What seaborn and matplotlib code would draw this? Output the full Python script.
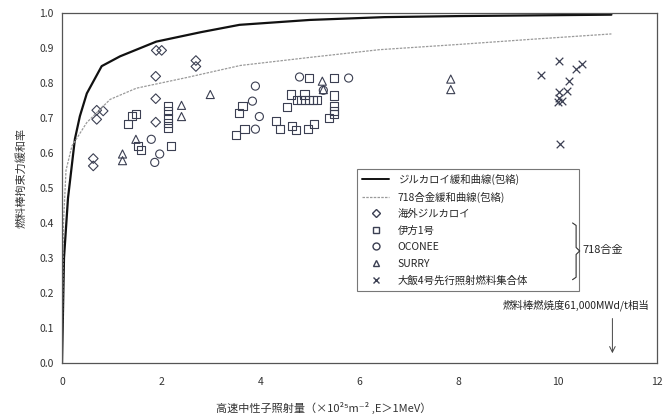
import numpy as np
import pandas as pd
import seaborn as sns
import matplotlib.pyplot as plt
from matplotlib.lines import Line2D

# envelope curves
zr_x = [0, 0.04, 0.12, 0.26, 0.36, 0.5, 0.8, 1.17, 1.9, 2.8, 3.58, 5.0, 6.5, 8.0, 9.5, 11.08]
zr_y = [0, 0.30, 0.47, 0.64, 0.705, 0.77, 0.848, 0.876, 0.918, 0.945, 0.966, 0.98, 0.988, 0.991, 0.993, 0.995]
a718_x = [0, 0.03, 0.08, 0.2, 0.5, 0.97, 1.5, 2.5, 3.6, 5.0, 6.4, 8.0, 9.5, 11.08]
a718_y = [0, 0.40, 0.55, 0.62, 0.687, 0.753, 0.785, 0.815, 0.85, 0.873, 0.895, 0.91, 0.925, 0.94]

# 海外ジルカロイ
dia_x = [0.63, 0.63, 0.70, 0.83, 0.70, 1.89, 1.89, 1.89, 1.90, 2.01, 2.70, 2.70]
dia_y = [0.584, 0.563, 0.722, 0.72, 0.696, 0.819, 0.755, 0.688, 0.893, 0.893, 0.864, 0.847]
# 伊方1号
sq_x = [1.50, 1.42, 1.33, 2.14, 2.14, 2.14, 2.14, 2.14, 2.20, 1.54, 1.60,
        4.98, 5.49, 4.62, 4.89, 4.74, 4.82, 4.90, 4.98, 5.06, 5.14,
        5.49, 5.49, 5.49, 5.49, 5.39,
        3.64, 3.57, 4.53, 4.32, 4.39, 4.64, 4.72, 5.09, 4.96, 3.68, 3.51]
sq_y = [0.712, 0.705, 0.682, 0.735, 0.72, 0.70, 0.685, 0.67, 0.62, 0.62, 0.609,
        0.814, 0.814, 0.767, 0.767, 0.751, 0.751, 0.751, 0.751, 0.751, 0.751,
        0.764, 0.734, 0.72, 0.71, 0.70,
        0.734, 0.715, 0.732, 0.691, 0.668, 0.677, 0.666, 0.682, 0.668, 0.669, 0.651]
# OCONEE
ci_x = [1.80, 1.97, 1.87, 3.90, 3.84, 3.98, 3.90, 4.79, 5.78, 5.27]
ci_y = [0.639, 0.597, 0.573, 0.791, 0.748, 0.704, 0.668, 0.817, 0.814, 0.779]
# SURRY
tri_x = [1.22, 1.22, 1.49, 2.41, 2.41, 2.99, 5.25, 5.27, 7.84, 7.84]
tri_y = [0.597, 0.578, 0.639, 0.736, 0.704, 0.767, 0.805, 0.781, 0.811, 0.781]
# 大飯4号先行照射燃料集合体
ohi_x = [10.02, 9.65, 10.49, 10.37, 10.23, 10.19, 10.02, 10.03, 10.09, 10.01, 10.05]
ohi_y = [0.864, 0.824, 0.855, 0.840, 0.805, 0.776, 0.774, 0.757, 0.748, 0.745, 0.625]

names = ['海外ジルカロイ', '伊方1号', 'OCONEE', 'SURRY', '大飯4号先行照射燃料集合体']
pts = pd.concat([
    pd.DataFrame({'x': dia_x, 'y': dia_y, 'g': names[0]}),
    pd.DataFrame({'x': sq_x, 'y': sq_y, 'g': names[1]}),
    pd.DataFrame({'x': ci_x, 'y': ci_y, 'g': names[2]}),
    pd.DataFrame({'x': tri_x, 'y': tri_y, 'g': names[3]}),
    pd.DataFrame({'x': ohi_x, 'y': ohi_y, 'g': names[4]}),
])

sns.set_style('white')
plt.rcParams['font.family'] = ['Noto Sans CJK JP', 'DejaVu Sans']

fig = plt.figure(figsize=(6.64, 4.17), dpi=100)
ax = fig.add_axes([0.0934, 0.1295, 0.8961, 0.8395])

mk_col = '#3b3f52'
sns.lineplot(x=zr_x, y=zr_y, ax=ax, color='#111111', lw=1.6, estimator=None, sort=False)
sns.lineplot(x=a718_x, y=a718_y, ax=ax, color='#9a9a9a', lw=0.9, ls=(0, (2, 1)),
             estimator=None, sort=False)

markers = {names[0]: 'D', names[1]: 's', names[2]: 'o', names[3]: '^', names[4]: 'x'}
for g, m in markers.items():
    d = pts[pts.g == g]
    if m == 'x':
        sns.scatterplot(data=d, x='x', y='y', marker=m, s=30, color=mk_col, linewidth=0.9, ax=ax)
    else:
        sns.scatterplot(data=d, x='x', y='y', marker=m, s=34 if m != 'D' else 24,
                        facecolor='none', edgecolor=mk_col, linewidth=0.8, ax=ax)

ax.set_xlim(0, 12)
ax.set_ylim(0, 1.0)
ax.set_xticks(range(0, 13, 2))
ax.set_yticks(np.arange(0, 1.01, 0.1))
ax.set_yticklabels([f'{v:.1f}' for v in np.arange(0, 1.01, 0.1)])
ax.tick_params(direction='in', length=3, labelsize=7.5, colors='#333333', pad=6)
ax.tick_params(axis='x', pad=10)
for sp in ax.spines.values():
    sp.set_color('#555555')
    sp.set_linewidth(0.9)

ax.set_xlabel('高速中性子照射量（×10²⁵m⁻² ,E＞1MeV）', fontsize=8, color='#333333')
ax.xaxis.set_label_coords(0.44, -0.11)
ax.set_ylabel('燃料棒拘束力緩和率', fontsize=8, color='#333333')
ax.yaxis.set_label_coords(-0.06, 0.53)

handles = [
    Line2D([], [], color='#111111', lw=1.4),
    Line2D([], [], color='#9a9a9a', lw=0.9, ls=(0, (2, 1))),
    Line2D([], [], marker='D', ls='', mfc='none', mec=mk_col, ms=4),
    Line2D([], [], marker='s', ls='', mfc='none', mec=mk_col, ms=5),
    Line2D([], [], marker='o', ls='', mfc='none', mec=mk_col, ms=5),
    Line2D([], [], marker='^', ls='', mfc='none', mec=mk_col, ms=5),
    Line2D([], [], marker='x', ls='', color=mk_col, ms=5),
]
labels = ['ジルカロイ緩和曲線(包絡)', '718合金緩和曲線(包絡)'] + names
leg = ax.legend(handles, labels, loc='upper left', bbox_to_anchor=(0.487, 0.57, 0.39, 0.0),
                mode='expand', fontsize=7.5, frameon=True, fancybox=False,
                handlelength=2.6, labelspacing=0.62, borderpad=0.5, edgecolor='#555555')
leg.get_frame().set_linewidth(0.8)

# brace for the 718 alloy group
bx = 0.858
ax.plot([bx, bx + 0.006, bx + 0.006, bx + 0.012, bx + 0.006, bx + 0.006, bx],
        [0.40, 0.393, 0.33, 0.32, 0.31, 0.245, 0.238],
        transform=ax.transAxes, color='#333333', lw=0.8, clip_on=False, zorder=10)
ax.text(bx + 0.016, 0.322, '718合金', transform=ax.transAxes, fontsize=8,
        va='center', ha='left', color='#222222', zorder=10)

ax.text(11.85, 0.165, '燃料棒燃焼度61,000MWd/t相当', fontsize=7.5, ha='right',
        va='center', color='#222222')
ax.annotate('', xy=(11.1, 0.02), xytext=(11.1, 0.135),
            arrowprops=dict(arrowstyle='->', color='#444444', lw=0.7))

fig.savefig('out.png', dpi=100)
